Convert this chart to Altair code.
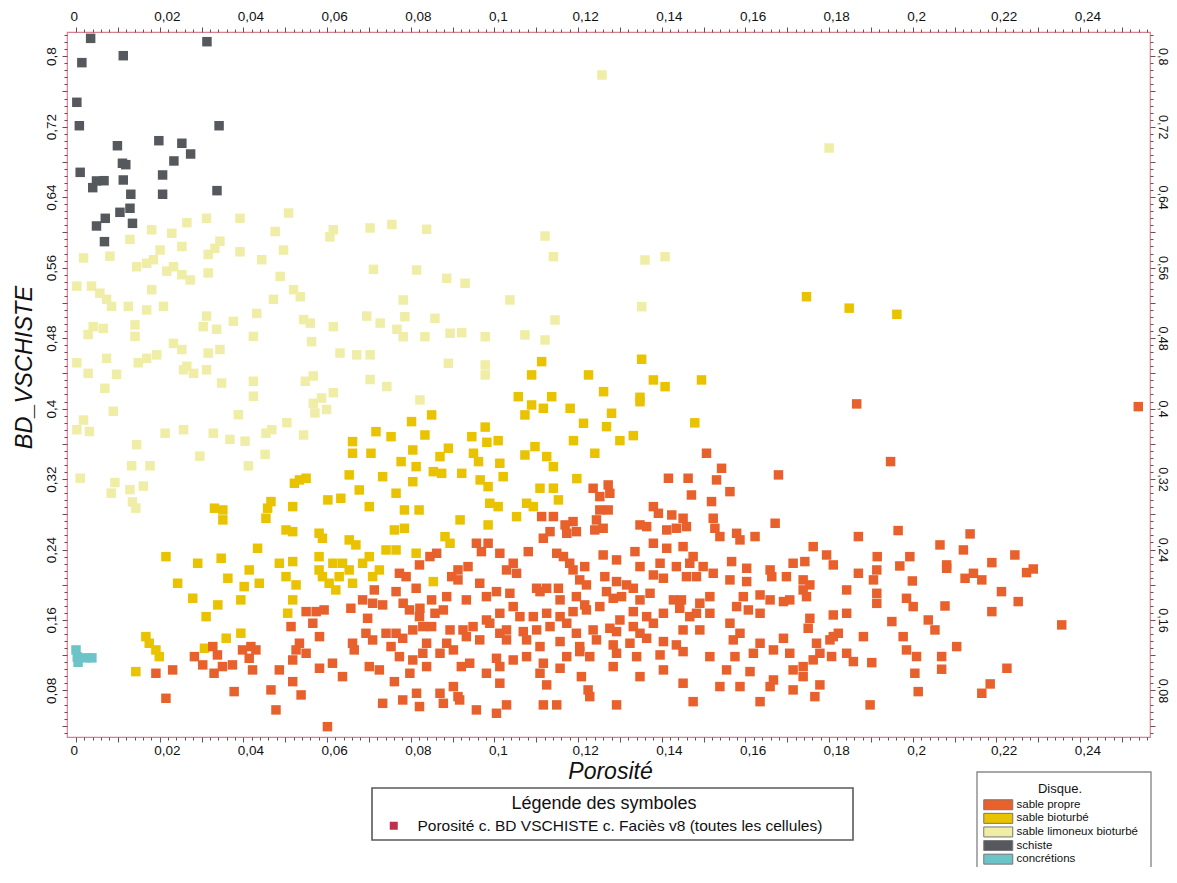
import altair as alt
import pandas as pd

FONT = "Liberation Sans"

FACIES = ["sable propre", "sable bioturbé", "sable limoneux bioturbé", "schiste", "concrétions"]
FACIES_COLORS = ["#e8612c", "#e9c200", "#f0eda6", "#55595e", "#6cc4c8"]
SYMBOL_LABEL = "Porosité c. BD VSCHISTE c. Faciès v8 (toutes les cellules)"

X_LABEL_VALUES = [0, 0.02, 0.04, 0.06, 0.08, 0.1, 0.12, 0.14, 0.16, 0.18, 0.2, 0.22, 0.24]
X_LABELS = ["0", "0,02", "0,04", "0,06", "0,08", "0,1", "0,12", "0,14", "0,16", "0,18", "0,2", "0,22", "0,24"]
Y_LABEL_VALUES = [0.08, 0.16, 0.24, 0.32, 0.4, 0.48, 0.56, 0.64, 0.72, 0.8]
Y_LABELS = ["0,08", "0,16", "0,24", "0,32", "0,4", "0,48", "0,56", "0,64", "0,72", "0,8"]

# (Porosité, BD_VSCHISTE)
SABLE_LIMONEUX = [
    (0.0181,0.603),(0.0229,0.599),(0.0265,0.611),(0.0312,0.616),(0.0392,0.616),(0.0508,0.622),(0.0476,0.601),
    (0.0615,0.603),(0.0607,0.595),(0.0703,0.605),(0.0755,0.609),(0.0129,0.592),(0.0253,0.584),(0.0201,0.580),
    (0.0344,0.590),(0.0332,0.582),(0.0316,0.575),(0.0392,0.578),(0.0444,0.569),(0.0496,0.580),(0.0018,0.571),
    (0.0081,0.573),(0.0145,0.561),(0.0169,0.565),(0.0185,0.569),(0.0217,0.556),(0.0233,0.561),(0.0253,0.552),
    (0.0273,0.546),(0.0316,0.554),(0.0488,0.550),(0.0520,0.535),(0.0711,0.558),(0.0002,0.539),(0.0037,0.539),
    (0.0057,0.531),(0.0073,0.524),(0.0085,0.516),(0.0125,0.516),(0.0169,0.512),(0.0209,0.516),(0.0181,0.535),
    (0.0312,0.505),(0.0304,0.493),(0.0336,0.490),(0.0376,0.499),(0.0432,0.508),(0.0472,0.524),(0.0536,0.527),
    (0.0544,0.501),(0.0560,0.497),(0.0615,0.493),(0.0041,0.493),(0.0029,0.484),(0.0065,0.491),(0.0141,0.495),
    (0.0141,0.482),(0.0233,0.474),(0.0253,0.467),(0.0265,0.448),(0.0281,0.440),(0.0316,0.463),(0.0344,0.467),
    (0.0424,0.482),(0.0563,0.476),(0.0695,0.505),(0.0727,0.497),(0.0767,0.490),(0.0002,0.452),(0.0029,0.440),
    (0.0073,0.457),(0.0097,0.439),(0.0149,0.452),(0.0169,0.457),(0.0193,0.461),(0.0257,0.444),(0.0312,0.444),
    (0.0348,0.429),(0.0424,0.431),(0.0424,0.414),(0.0548,0.431),(0.0567,0.437),(0.0615,0.418),(0.0631,0.463),
    (0.0671,0.461),(0.0703,0.461),(0.0703,0.433),(0.0743,0.425),(0.0069,0.423),(0.0089,0.397),(0.0018,0.387),
    (0.0002,0.376),(0.0145,0.359),(0.0213,0.372),(0.0257,0.376),(0.0296,0.346),(0.0328,0.372),(0.0368,0.365),
    (0.0388,0.393),(0.0404,0.363),(0.0452,0.348),(0.0412,0.335),(0.0468,0.376),(0.0504,0.384),(0.0544,0.370),
    (0.0571,0.395),(0.0599,0.399),(0.0567,0.406),(0.0587,0.412),(0.0133,0.335),(0.0177,0.335),(0.0010,0.321),
    (0.0093,0.316),(0.0129,0.308),(0.0161,0.312),(0.0032,0.374),(0.0084,0.304),(0.0135,0.294),(0.0143,0.287),
    (0.0454,0.372),(0.0838,0.6035),(0.0814,0.5573),(0.0886,0.5479),(0.0930,0.5422),(0.0782,0.5233),(0.0786,0.5043),
    (0.0858,0.5025),(0.0782,0.4816),(0.0834,0.4816),(0.0894,0.4855),(0.0922,0.4862),(0.0978,0.4816),(0.1037,0.5233),
    (0.1073,0.4836),(0.1121,0.4779),(0.1145,0.5006),(0.1121,0.5959),(0.1141,0.5724),(0.1360,0.5687),(0.1408,0.5724),
    (0.1352,0.5157),(0.0890,0.4514),(0.0978,0.4495),(0.0978,0.4382),(0.0822,0.4098),(0.1257,0.7787),(0.1800,0.6958),
]

SABLE_BIOTURBE = [
    (0.0661,0.3625),(0.0661,0.3493),(0.0705,0.3493),(0.0717,0.3738),(0.0753,0.3681),(0.0805,0.353),(0.0777,0.3398),
    (0.0813,0.3341),(0.0805,0.317),(0.0653,0.3247),(0.0733,0.3227),(0.0677,0.3076),(0.0765,0.3039),(0.0785,0.2849),
    (0.082,0.2849),(0.0701,0.2887),(0.0602,0.2963),(0.0633,0.2982),(0.0534,0.319),(0.055,0.3209),(0.0522,0.3152),
    (0.0466,0.2944),(0.0458,0.2869),(0.0454,0.2755),(0.0518,0.2887),(0.0331,0.2869),(0.0351,0.2849),(0.0351,0.2736),
    (0.0502,0.2622),(0.0518,0.2603),(0.0581,0.2585),(0.0589,0.2528),(0.0653,0.2509),(0.0669,0.2452),(0.0761,0.2622),
    (0.0785,0.2641),(0.0765,0.2395),(0.0813,0.2358),(0.0434,0.2414),(0.0215,0.2319),(0.0291,0.2244),(0.0347,0.2301),
    (0.0363,0.2074),(0.0243,0.2017),(0.0279,0.1847),(0.0311,0.1638),(0.0339,0.1771),(0.0394,0.1828),(0.0402,0.1979),
    (0.0414,0.2168),(0.0438,0.2017),(0.0486,0.2244),(0.0518,0.2263),(0.0502,0.2092),(0.0526,0.1998),(0.0518,0.1828),
    (0.0506,0.1677),(0.0581,0.2319),(0.0581,0.2168),(0.0589,0.2092),(0.0614,0.2244),(0.0637,0.2244),(0.0629,0.2092),
    (0.0605,0.2017),(0.0621,0.1941),(0.0653,0.2168),(0.0661,0.2017),(0.0685,0.2244),(0.0701,0.2319),(0.0725,0.2168),
    (0.0709,0.2092),(0.0741,0.2395),(0.0167,0.1411),(0.0175,0.1336),(0.0191,0.126),(0.0199,0.1184),(0.0143,0.1014),
    (0.0359,0.1393),(0.0394,0.145),(0.0307,0.1279),
    (0.0802,0.3852),(0.0834,0.370),(0.085,0.3928),(0.0854,0.3284),(0.0874,0.3265),(0.0922,0.3265),(0.0946,0.3681),
    (0.095,0.3493),(0.0962,0.3398),(0.0978,0.379),(0.0982,0.3617),(0.0966,0.319),(0.0985,0.3114),(0.1009,0.3636),
    (0.1013,0.3379),(0.1021,0.3227),(0.0989,0.2925),(0.1009,0.2887),(0.1053,0.2773),(0.1073,0.3928),(0.1117,0.4003),
    (0.1181,0.4003),(0.1189,0.3636),(0.1213,0.3833),(0.124,0.3493),(0.1268,0.3795),(0.128,0.3947),(0.13,0.3636),
    (0.1332,0.3693),(0.1348,0.4078),(0.1479,0.3838),(0.1073,0.3473),(0.1097,0.3568),(0.1125,0.3455),(0.1141,0.3341),
    (0.1109,0.3096),(0.1141,0.3096),(0.1153,0.2963),(0.1197,0.3205),(0.1077,0.2925),(0.1093,0.2887),(0.0882,0.2546),
    (0.0894,0.2471),(0.0854,0.2036),(0.0918,0.2736),(0.0985,0.2679),(0.1089,0.4041),
    (0.1113,0.4533),(0.1089,0.4382),(0.1225,0.4382),(0.1261,0.4192),(0.1057,0.4135),(0.1137,0.4135),(0.1352,0.456),
    (0.138,0.4325),(0.1408,0.4249),(0.1495,0.4325),(0.1348,0.4128),(0.089,0.355),(0.087,0.3455),
    (0.1746,0.527),(0.1848,0.514),(0.1962,0.507),
]

SABLE_PROPRE = [
    (0.1507,0.3493),(0.1679,0.3247),(0.1416,0.3209),(0.1463,0.3209),(0.1543,0.3322),(0.1531,0.319),(0.1563,0.3057),
    (0.1471,0.3019),(0.1519,0.2944),(0.1236,0.3095),(0.1272,0.3133),(0.1276,0.3038),(0.1252,0.3001),(0.138,0.2887),
    (0.1252,0.2849),(0.1272,0.2849),(0.1392,0.2811),(0.1424,0.2792),(0.1451,0.2755),(0.1459,0.266),(0.1523,0.2755),
    (0.1671,0.2698),(0.1113,0.2774),(0.1141,0.2774),(0.1169,0.2679),(0.1188,0.2717),(0.1244,0.2736),(0.124,0.2622),
    (0.126,0.2641),(0.1348,0.2679),(0.1364,0.266),(0.1412,0.2622),(0.1435,0.2641),(0.1527,0.2641),(0.1539,0.2547),
    (0.1579,0.2584),(0.1623,0.2547),(0.1133,0.2603),(0.1173,0.2584),(0.1196,0.2603),(0.0957,0.2471),(0.0985,0.2471),
    (0.0969,0.2376),(0.1013,0.2357),(0.1081,0.2376),(0.1117,0.2528),(0.1149,0.2357),(0.1165,0.232),(0.126,0.2338),
    (0.1336,0.2376),(0.138,0.2471),(0.1412,0.2414),(0.1451,0.2433),(0.1475,0.232),(0.1587,0.2509),(0.0862,0.2357),
    (0.0846,0.232),(0.0913,0.2168),(0.0937,0.2206),(0.1045,0.2244),(0.1029,0.2168),(0.1053,0.213),(0.118,0.2244),
    (0.1188,0.2168),(0.1216,0.2206),(0.1292,0.2282),(0.1348,0.2206),(0.1396,0.2244),(0.1435,0.2206),(0.1467,0.2244),
    (0.1499,0.2206),(0.1567,0.2263),(0.1603,0.2187),(0.1659,0.2168),(0.1714,0.2244),(0.0898,0.2092),(0.0913,0.2055),
    (0.0965,0.2017),(0.1005,0.1922),(0.1101,0.196),(0.1125,0.196),(0.1153,0.196),(0.1204,0.2055),(0.122,0.1998),
    (0.1264,0.2092),(0.1292,0.2036),(0.1316,0.1998),(0.1332,0.196),(0.138,0.2111),(0.1404,0.2074),(0.1459,0.2092),
    (0.1483,0.2092),(0.1523,0.213),(0.1563,0.2055),(0.1603,0.2036),(0.1663,0.2092),(0.1698,0.2092),(0.0782,0.179),
    (0.085,0.1828),(0.0886,0.1865),(0.0933,0.1828),(0.0981,0.1865),(0.1037,0.1903),(0.1109,0.1922),(0.1157,0.1828),
    (0.1196,0.1865),(0.1216,0.1771),(0.1268,0.1922),(0.1284,0.1846),(0.1304,0.1865),(0.1348,0.1828),(0.1372,0.1903),
    (0.1428,0.1828),(0.1447,0.1828),(0.1491,0.179),(0.1515,0.1865),(0.1595,0.1865),(0.1635,0.1884),(0.1659,0.1828),
    (0.1691,0.1809),(0.1706,0.1828),(0.1746,0.1865),(0.0822,0.1733),(0.0858,0.1676),(0.0878,0.1714),(0.0981,0.16),
    (0.1013,0.1676),(0.1045,0.1752),(0.1061,0.1638),(0.1093,0.1638),(0.1125,0.1676),(0.1157,0.1638),(0.1188,0.1695),
    (0.122,0.1714),(0.1252,0.1752),(0.13,0.16),(0.1332,0.1695),(0.1364,0.1638),(0.1404,0.1676),(0.1443,0.1733),
    (0.1467,0.1638),(0.1483,0.1676),(0.1515,0.1676),(0.1579,0.1752),(0.1607,0.1714),(0.1635,0.1676),(0.085,0.1525),
    (0.0894,0.1487),(0.0925,0.1487),(0.0949,0.1525),(0.0989,0.1563),(0.1029,0.1487),(0.1069,0.1468),(0.1101,0.1487),
    (0.1133,0.1525),(0.1173,0.1563),(0.1196,0.1449),(0.1236,0.1487),(0.1276,0.1506),(0.1292,0.1468),(0.1332,0.1525),
    (0.1348,0.1449),(0.138,0.1563),(0.1451,0.1487),(0.1491,0.1487),(0.1563,0.1563),(0.1587,0.1449),(0.0838,0.1336),
    (0.0886,0.1336),(0.0933,0.1411),(0.0965,0.1374),(0.1013,0.1449),(0.1029,0.1374),(0.1077,0.1374),(0.1109,0.1298),
    (0.1157,0.1355),(0.1204,0.1298),(0.1244,0.1374),(0.1284,0.1317),(0.1324,0.1336),(0.1364,0.1392),(0.1404,0.1355),
    (0.1435,0.1317),(0.1571,0.1374),(0.1635,0.1336),(0.1691,0.1392),(0.177,0.1336),(0.1802,0.1374),(0.087,0.1222),
    (0.0902,0.126),(0.0941,0.1109),(0.1005,0.1165),(0.1045,0.1146),(0.1077,0.1184),(0.1117,0.1109),(0.1173,0.1184),
    (0.1204,0.1241),(0.1228,0.1184),(0.1292,0.1222),(0.134,0.1184),(0.1396,0.1203),(0.1451,0.1241),(0.1515,0.1184),
    (0.1575,0.1184),(0.1619,0.1222),(0.1667,0.126),(0.1706,0.1222),(0.0798,0.0995),(0.0838,0.1071),(0.0921,0.1071),
    (0.0981,0.0995),(0.1013,0.1071),(0.1109,0.0995),(0.1157,0.1052),(0.1208,0.0957),(0.1284,0.1071),(0.1348,0.0957),
    (0.1404,0.1033),(0.1451,0.0882),(0.1555,0.1033),(0.1611,0.1014),(0.1667,0.0919),(0.1714,0.1033),(0.0814,0.0768),
    (0.087,0.0768),(0.0902,0.0844),(0.0913,0.073),(0.1013,0.0882),(0.1125,0.0863),(0.1224,0.0806),(0.1228,0.073),
    (0.1539,0.0844),(0.1587,0.0844),(0.1659,0.0844),(0.1714,0.0806),(0.0878,0.0654),(0.0917,0.0692),(0.0957,0.0579),
    (0.1005,0.0541),(0.1029,0.0636),(0.1117,0.0636),(0.1149,0.0636),(0.1292,0.0636),(0.1475,0.0673),(0.1635,0.0673),
    (0.0821,0.2225),(0.0773,0.213),(0.0789,0.2092),(0.0765,0.1922),(0.0813,0.196),(0.0713,0.1941),(0.0685,0.1828),
    (0.0709,0.179),(0.0733,0.1771),(0.0657,0.1733),(0.0697,0.1619),(0.0797,0.1714),(0.0821,0.1638),(0.0805,0.1487),
    (0.0829,0.1525),(0.0550,0.1695),(0.0574,0.1695),(0.0593,0.1714),(0.0566,0.1563),(0.0582,0.1411),(0.0514,0.1525),
    (0.0765,0.1449),(0.0741,0.1449),(0.0781,0.1392),(0.0693,0.1449),(0.0709,0.1373),(0.0661,0.1336),(0.0665,0.126),
    (0.0753,0.1298),(0.0773,0.1184),(0.0805,0.1146),(0.0829,0.1222),(0.0534,0.1336),(0.0526,0.126),(0.0518,0.1146),
    (0.055,0.1222),(0.0283,0.1184),(0.0303,0.109),(0.0327,0.1298),(0.0338,0.1203),(0.035,0.1071),(0.0374,0.109),
    (0.0330,0.0995),(0.0398,0.126),(0.0418,0.1298),(0.043,0.126),(0.0414,0.1165),(0.0422,0.1033),(0.0486,0.1033),
    (0.0518,0.09),(0.0582,0.1052),(0.0613,0.1109),(0.0637,0.0957),(0.0701,0.1071),(0.0725,0.1033),(0.0761,0.09),
    (0.0191,0.0995),(0.0231,0.1033),(0.0215,0.0711),(0.0378,0.0787),(0.0466,0.0806),(0.0478,0.0579),(0.0538,0.0749),
    (0.0733,0.0654),(0.0781,0.0692),(0.0821,0.0617),(0.0601,0.0389),
    (0.1866,0.4053),(0.2539,0.4022),(0.1947,0.3398),(0.1965,0.2615),(0.2137,0.2577),(0.1870,0.2547),(0.2065,0.2452),
    (0.2121,0.2395),(0.1762,0.2433),(0.1794,0.2338),(0.1810,0.2225),(0.1742,0.2263),(0.1915,0.2319),(0.1993,0.2319),
    (0.1969,0.2213),(0.2081,0.2225),(0.2189,0.2251),(0.2244,0.2338),(0.2288,0.2179),(0.2272,0.2138),(0.2145,0.213),
    (0.2125,0.2073),(0.2165,0.2055),(0.2081,0.2187),(0.1870,0.213),(0.1914,0.2168),(0.1906,0.2055),(0.1999,0.2043),
    (0.1738,0.2055),(0.1738,0.1941),(0.1842,0.1941),(0.1914,0.1903),(0.2212,0.1922),(0.2252,0.1809),(0.1985,0.1846),
    (0.2001,0.1752),(0.1914,0.1789),(0.2077,0.1759),(0.2189,0.1695),(0.181,0.1657),(0.1842,0.1676),(0.1950,0.1582),
    (0.2037,0.16),(0.2053,0.1487),(0.2356,0.1544),(0.1754,0.1619),(0.1750,0.1506),(0.181,0.1411),(0.1822,0.1449),
    (0.1842,0.1222),(0.1858,0.1128),(0.1882,0.1411),(0.1902,0.1116),(0.1977,0.1411),(0.1985,0.126),(0.2009,0.1185),
    (0.2005,0.0995),(0.2013,0.0787),(0.2069,0.1185),(0.2069,0.1041),(0.2105,0.1298),(0.2225,0.1052),(0.2185,0.0874),
    (0.2165,0.0768),(0.1778,0.0863),(0.1766,0.0730),(0.1778,0.1222),(0.1762,0.1147),(0.1738,0.1071),(0.1738,0.0957),
    (0.1898,0.0636),(0.1806,0.1185),(0.1754,0.1998),
]

SCHISTE = [
    (0.0035,0.8203),(0.0313,0.8165),(0.0113,0.8006),(0.0014,0.7927),(0.0002,0.7477),(0.0008,0.7211),(0.0342,0.7211),
    (0.0099,0.6984),(0.0198,0.7041),(0.0253,0.7012),(0.0274,0.689),(0.0234,0.6811),(0.0111,0.6785),(0.0119,0.6769),
    (0.0010,0.6682),(0.0049,0.6584),(0.0067,0.6587),(0.0040,0.6508),(0.0113,0.6595),(0.0207,0.6652),(0.0131,0.6433),
    (0.0207,0.6433),(0.0337,0.6474),(0.0105,0.6228),(0.0129,0.6274),(0.0070,0.616),(0.0049,0.6073),(0.0135,0.6103),
    (0.0068,0.5895),
]

CONCRETIONS = [(0.0, 0.126), (0.0003, 0.118), (0.0005, 0.112), (0.0024, 0.117), (0.0038, 0.117)]

rows = []
for name, pts in [("sable limoneux bioturbé", SABLE_LIMONEUX), ("sable bioturbé", SABLE_BIOTURBE),
                  ("sable propre", SABLE_PROPRE), ("schiste", SCHISTE), ("concrétions", CONCRETIONS)]:
    for px, py in pts:
        rows.append({"porosite": px, "bd": py, "facies": name, "symbole": SYMBOL_LABEL})
df = pd.DataFrame(rows)

# axis tick positions (minor/major)
X_TICK_VALUES = [round(i * 0.002, 3) for i in range(0, 129)]
X_MAJOR = [round(i * 0.01, 2) for i in range(0, 26)]
Y_TICK_VALUES = [round(i * 0.008, 3) for i in range(4, 104)]
Y_MAJOR = [round(i * 0.04, 2) for i in range(1, 21)]

TICK_COLOR = "#6b4b58"
FRAME_COLOR = "#d9808f"
x_scale = alt.Scale(domain=[-0.00215, 0.2567], nice=False, zero=False)
y_scale = alt.Scale(domain=[0.02715, 0.8275], nice=False, zero=False)

x_label_expr = (f"indexof({X_LABEL_VALUES}, datum.value) >= 0 ? "
                f"{X_LABELS}[indexof({X_LABEL_VALUES}, datum.value)] : ''")
y_label_expr = (f"indexof({Y_LABEL_VALUES}, datum.value) >= 0 ? "
                f"{Y_LABELS}[indexof({Y_LABEL_VALUES}, datum.value)] : ''")
x_tick = {"condition": {"test": f"indexof({X_MAJOR}, datum.value) >= 0", "value": 5}, "value": 3}
y_tick = {"condition": {"test": f"indexof({Y_MAJOR}, datum.value) >= 0", "value": 5}, "value": 3}

common = dict(labelFont=FONT, labelColor="#111", tickColor=TICK_COLOR, tickWidth=1,
              domain=False, grid=False, labelOverlap=False, labelFlush=False)

x_bottom = alt.Axis(orient="bottom", values=X_TICK_VALUES, labelExpr=x_label_expr, tickSize=x_tick,
                    labelFontSize=13.5, labelAlign="left", labelOffset=-6, labelPadding=1,
                    title="Porosité", titleFont=FONT, titleFontSize=23, titleFontStyle="italic",
                    titleFontWeight="normal", titleColor="#111", titleX=543, titleY=34,
                    titleAlign="center", titleBaseline="middle", **common)
x_top = alt.Axis(orient="top", values=X_TICK_VALUES, labelExpr=x_label_expr, tickSize=x_tick,
                 labelFontSize=13.5, labelAlign="left", labelOffset=-6, labelPadding=4, title=None, **common)
y_left = alt.Axis(orient="left", values=Y_TICK_VALUES, labelExpr=y_label_expr, tickSize=y_tick,
                  labelFontSize=13.5, labelAngle=270, labelAlign="center", labelBaseline="bottom", labelPadding=4,
                  title="BD_VSCHISTE", titleFont=FONT, titleFontSize=23.5, titleFontStyle="italic",
                  titleFontWeight="normal", titleColor="#111", titleAngle=270, titleX=-43, titleY=335,
                  titleAlign="center", titleBaseline="middle", **common)
y_right = alt.Axis(orient="right", values=Y_TICK_VALUES, labelExpr=y_label_expr, tickSize=y_tick,
                   labelFontSize=12.5, labelAngle=90, labelAlign="center", labelBaseline="bottom",
                   labelPadding=0, title=None, **common)

color_legend = alt.Legend(
    title="Disque.", orient="none", legendX=916, legendY=751, direction="vertical",
    titleAnchor="middle", titleAlign="center", titleFont=FONT, titleFontSize=13, titleFontWeight="normal",
    titleColor="#111", titlePadding=3, labelFont=FONT, labelFontSize=11.5, labelColor="#111",
    labelOffset=22, labelLimit=400, symbolType="M-1,-1H4.8V1H-1Z", symbolSize=100, symbolStrokeColor="#777777",
    symbolStrokeWidth=1, symbolOpacity=1, rowPadding=-1.4, padding=0)

shape_legend = alt.Legend(
    title="Légende des symboles", orient="none", legendX=319, legendY=763,
    titleAnchor="middle", titleAlign="center", titleFont=FONT, titleFontSize=18, titleFontWeight="normal",
    titleColor="#111", titlePadding=5, titleLimit=600, labelFont=FONT, labelFontSize=15.5, labelColor="#111",
    labelLimit=700, labelOffset=16, symbolFillColor="#c0304a", symbolStrokeColor="#c0304a", symbolStrokeWidth=0,
    symbolSize=64, symbolOpacity=1, padding=0)

boxes = alt.Chart(alt.Data(values=[{}])).mark_rect(fill="white", stroke="#5a5a5a", strokeWidth=1.6).encode(
    x=alt.value(305), x2=alt.value(786), y=alt.value(756), y2=alt.value(808))
boxes2 = alt.Chart(alt.Data(values=[{}])).mark_rect(fill="white", stroke="#8a8a8a", strokeWidth=1.4).encode(
    x=alt.value(910), x2=alt.value(1084), y=alt.value(740), y2=alt.value(880))

points = alt.Chart(df).mark_point(filled=True, size=90, opacity=1, strokeWidth=0).encode(
    x=alt.X("porosite:Q", scale=x_scale, axis=x_bottom),
    y=alt.Y("bd:Q", scale=y_scale, axis=y_left),
    color=alt.Color("facies:N", scale=alt.Scale(domain=FACIES, range=FACIES_COLORS), legend=color_legend),
    shape=alt.Shape("symbole:N", scale=alt.Scale(range=["square"]), legend=shape_legend),
)

mirror = alt.Chart(df).transform_filter("datum.facies === 'concrétions'").mark_point(opacity=0).encode(
    x=alt.X("porosite:Q", scale=x_scale, axis=x_top),
    y=alt.Y("bd:Q", scale=y_scale, axis=y_right),
)

chart = alt.layer(boxes, boxes2, points, mirror).resolve_axis(
    x="independent", y="independent"
).properties(
    width=1083, height=705,
    autosize=alt.AutoSizeParams(type="none"),
    padding={"left": 59, "top": 24, "right": 19, "bottom": 130},
    background="white",
).configure_view(stroke=FRAME_COLOR, strokeWidth=1.2)

chart.save("out.html", embed_options={"renderer": "svg", "actions": False})
